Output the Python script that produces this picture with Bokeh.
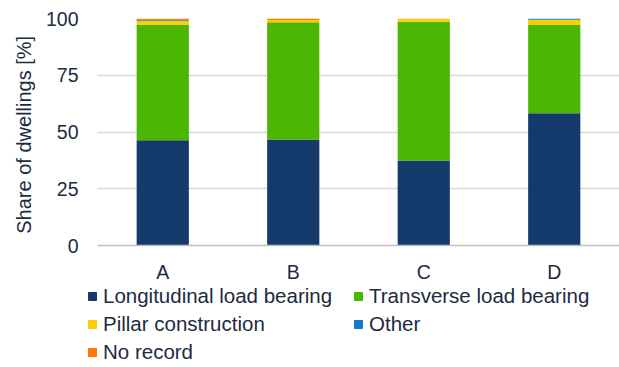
from bokeh.plotting import figure
from bokeh.layouts import column
from bokeh.models import ColumnDataSource, FactorRange, Legend, LegendItem, Range1d, FixedTicker
from bokeh.embed import file_html
from bokeh.resources import INLINE

categories = ["A", "B", "C", "D"]
longitudinal = [46.4, 46.7, 37.5, 58.3]
transverse = [50.7, 51.6, 61.1, 38.8]
pillar = [1.9, 1.0, 1.4, 2.4]
other = [0.4, 0.0, 0.0, 0.5]
no_record = [0.6, 0.7, 0.0, 0.0]

series_names = ["Longitudinal load bearing", "Transverse load bearing",
                "Pillar construction", "Other", "No record"]
keys = ["longitudinal", "transverse", "pillar", "other", "no_record"]
colors = ["#133A6B", "#4BB702", "#FFCC00", "#1478CC", "#FF7700"]

source = ColumnDataSource(dict(
    x=categories,
    longitudinal=longitudinal,
    transverse=transverse,
    pillar=pillar,
    other=other,
    no_record=no_record,
))

FONT = "Liberation Sans"
TEXT = "#1C2B3F"

# main stacked bar chart
p = figure(
    frame_width=522, frame_height=227,
    x_range=FactorRange(*categories, range_padding=0),
    y_range=Range1d(0, 100),
    output_backend="svg", toolbar_location=None,
    min_border_left=97, min_border_right=0, min_border_top=18, min_border_bottom=40,
)
p.outline_line_color = None

p.vbar_stack(keys, x="x", width=0.4, color=colors, source=source, line_color=None)

p.yaxis.ticker = FixedTicker(ticks=[0, 25, 50, 75, 100])
p.yaxis.axis_line_color = None
p.yaxis.major_tick_line_color = None
p.yaxis.minor_tick_line_color = None
p.yaxis.major_label_text_font = FONT
p.yaxis.major_label_text_font_size = "19.5px"
p.yaxis.major_label_text_color = TEXT
p.yaxis.major_label_standoff = 13
p.yaxis.axis_label = "Share of dwellings  [%]"
p.yaxis.axis_label_text_font = FONT
p.yaxis.axis_label_text_font_size = "20px"
p.yaxis.axis_label_text_font_style = "normal"
p.yaxis.axis_label_text_color = TEXT
p.yaxis.axis_label_standoff = 8

p.xaxis.axis_line_color = "#BFBFBF"
p.xaxis.axis_line_width = 1.5
p.xaxis.major_tick_line_color = None
p.xaxis.minor_tick_line_color = None
p.xaxis.major_label_text_font = FONT
p.xaxis.major_label_text_font_size = "19.5px"
p.xaxis.major_label_text_color = TEXT
p.xaxis.major_label_standoff = 9

p.xgrid.grid_line_color = None
p.ygrid.grid_line_color = "#D9D9D9"
p.ygrid.grid_line_width = 1.5

# legend panel underneath (its own frame spans the full width)
lg = figure(
    width=619, height=82,
    x_range=Range1d(0, 1), y_range=Range1d(0, 1),
    x_axis_location=None, y_axis_location=None,
    output_backend="svg", toolbar_location=None,
    min_border_left=0, min_border_right=0, min_border_top=0, min_border_bottom=0,
)
lg.grid.visible = False
lg.outline_line_color = None

swatches = [lg.quad(left=[5], right=[6], bottom=[5], top=[6], color=c) for c in colors]
items = [LegendItem(label=n, renderers=[r]) for n, r in zip(series_names, swatches)]
legend = Legend(
    items=items, orientation="horizontal", ncols=2,
    label_text_font=FONT, label_text_font_size="20.5px", label_text_color=TEXT,
    glyph_width=10, glyph_height=10, label_standoff=6,
    label_width=246, label_height=22,
    spacing=4, padding=0, margin=0,
    border_line_color=None, background_fill_alpha=0,
    location=(87, 3),
)
lg.add_layout(legend, "center")

layout = column(p, column(lg), spacing=0)
open("out.html", "w").write(file_html(layout, INLINE))
